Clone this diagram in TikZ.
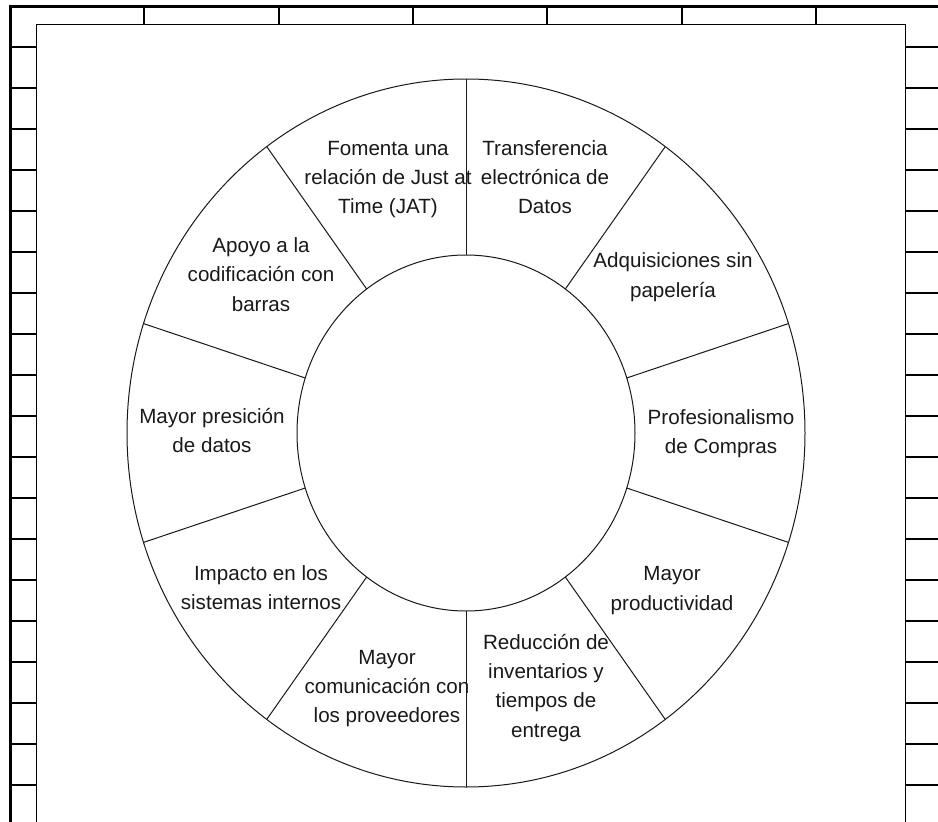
\documentclass[tikz,border=0pt]{standalone}
\usepackage{fontspec}
\setmainfont{Liberation Sans}
% strut that fixes the height of the first and the depth of the last line
\newcommand\lstrut{\rule[-6pt]{0pt}{26pt}}
\begin{document}
\begin{tikzpicture}[x=1pt,y=-1pt,
  cellline/.style={line width=1.2pt, black},
  sheetedge/.style={line width=3pt, black},
  areaedge/.style={line width=1pt, black},
  wheel/.style={line width=1pt, black!90},
  lbl/.style={align=center, inner sep=0pt, text=black!90,
              font=\fontsize{20.6}{29.3}\selectfont}]
\useasboundingbox (0,0) rectangle (938,822);
\fill[white] (0,0) rectangle (938,822);

% spreadsheet cells around the drawing area
\foreach \x in {144,279,413,547,682,816}
  \draw[cellline] (\x,6) -- (\x,24);
\foreach \y in {47,88,...,785} {
  \draw[cellline] (10,\y) -- (36,\y);
  \draw[cellline] (905,\y) -- (938,\y);
}
\draw[areaedge] (36,822) -- (36,24) -- (905,24) -- (905,822);
\draw[sheetedge] (10.5,822) -- (10.5,6.3) -- (938,6.3);

% wheel: outer and inner rings with ten spokes
\coordinate (c) at (466,433);
\draw[wheel] (c) ellipse [x radius=339pt, y radius=354pt];
\draw[wheel] (c) ellipse [x radius=169pt, y radius=178pt];
\begin{scope}[shift={(c)}]
  \foreach \k in {0,...,9} {
    \pgfmathsetmacro\ang{18+36*\k}
    \coordinate (in\k) at (\ang:169pt and 178pt);
    \coordinate (out\k) at (\ang:339pt and 354pt);
    \draw[wheel] (in\k) -- (out\k);
  }
\end{scope}

% segment labels
\node[lbl] (s1)  at (388,177.3) {\lstrut Fomenta una\\relación de Just at\\Time (JAT)\lstrut};
\node[lbl] (s2)  at (545,177.3) {\lstrut Transferencia\\electrónica de\\Datos\lstrut};
\node[lbl] (s3)  at (673,275.6) {\lstrut Adquisiciones sin\\papelería\lstrut};
\node[lbl] (s4)  at (721,431.8) {\lstrut Profesionalismo\\de Compras\lstrut};
\node[lbl] (s5)  at (672,588.5) {\lstrut Mayor\\productividad\lstrut};
\node[lbl] (s6)  at (546,686.3) {\lstrut Reducción de\\inventarios y\\tiempos de\\entrega\lstrut};
\node[lbl] (s7)  at (387,686.5) {\lstrut Mayor\\comunicación con\\los proveedores\lstrut};
\node[lbl] (s8)  at (261,587.7) {\lstrut Impacto en los\\sistemas internos\lstrut};
\node[lbl] (s9)  at (212,430.8) {\lstrut Mayor presición\\de datos\lstrut};
\node[lbl] (s10) at (261,274.9) {\lstrut Apoyo a la\\codificación con\\barras\lstrut};
\end{tikzpicture}
\end{document}
